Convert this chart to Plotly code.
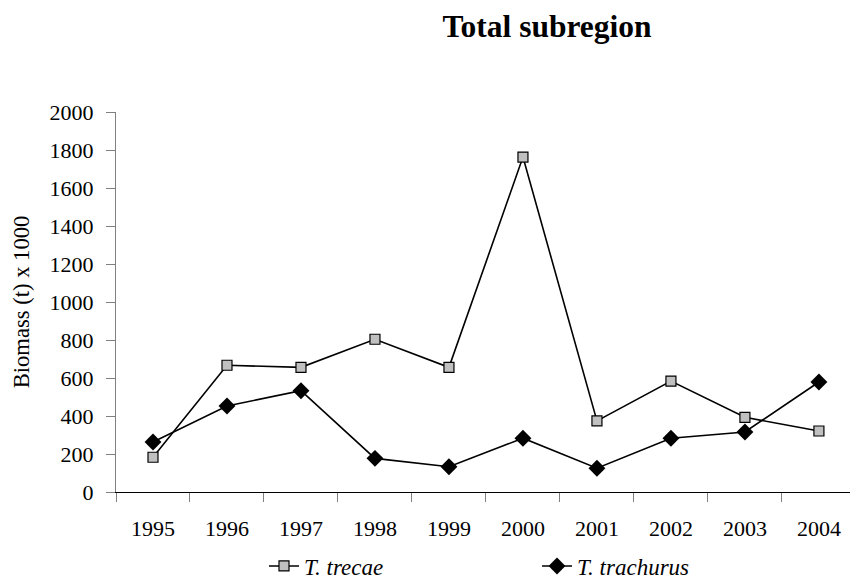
import plotly.graph_objects as go

years = ["1995", "1996", "1997", "1998", "1999", "2000", "2001", "2002", "2003", "2004"]
trecae = [183, 667, 656, 804, 656, 1763, 374, 584, 393, 321]
trachurus = [263, 453, 533, 177, 133, 283, 125, 283, 316, 579]
y_ticks = [0, 200, 400, 600, 800, 1000, 1200, 1400, 1600, 1800, 2000]

FONT = "Liberation Serif, Times New Roman, serif"

fig = go.Figure()
fig.add_trace(go.Scatter(
    x=years, y=trecae, mode="lines+markers", name="<i>T. trecae</i>",
    line=dict(color="black", width=1.6),
    marker=dict(symbol="square", size=10, color="#c0c0c0", line=dict(color="black", width=1.2)),
))
fig.add_trace(go.Scatter(
    x=years, y=trachurus, mode="lines+markers", name="<i>T. trachurus</i>",
    line=dict(color="black", width=1.6),
    marker=dict(symbol="diamond", size=13, color="black", line=dict(color="black", width=0)),
))

fig.update_layout(
    width=850, height=583,
    paper_bgcolor="white", plot_bgcolor="white",
    margin=dict(l=116, r=0, t=112, b=91, autoexpand=False),
    font=dict(family=FONT, size=22, color="black"),
    title=dict(text="<b>Total subregion</b>", x=547/850, xanchor="center",
               y=1-26/583, yanchor="middle", font=dict(size=31.5, family=FONT)),
    showlegend=True,
    legend=dict(orientation="h", xref="paper", yref="paper",
                x=(264-116)/734, y=(492-566)/380, xanchor="left", yanchor="middle",
                entrywidth=228, entrywidthmode="pixels",
                font=dict(size=23, family=FONT), itemclick=False),
    xaxis=dict(type="category", range=[-0.5, 9.42], showgrid=False, automargin=False,
               showline=True, linecolor="black", linewidth=1.3,
               ticks="outside", ticklen=9, tickcolor="#808080", tickwidth=1.2,
               tickson="boundaries", tickfont=dict(size=22, family=FONT),
               ticklabelstandoff=16, zeroline=False),
    yaxis=dict(range=[0, 2000], tickvals=y_ticks, showgrid=False, automargin=False,
               showline=True, linecolor="#808080", linewidth=1.3,
               ticks="outside", ticklen=9, tickcolor="#808080", tickwidth=1.2,
               tickfont=dict(size=22, family=FONT), ticklabelstandoff=8,
               zeroline=False,
               title=dict(text="Biomass (t) x 1000", font=dict(size=22.6, family=FONT), standoff=13)),
)

fig.write_html("out.html", config={"displayModeBar": False},
               post_script="document.body.style.margin='0';document.body.style.overflow='hidden';")
